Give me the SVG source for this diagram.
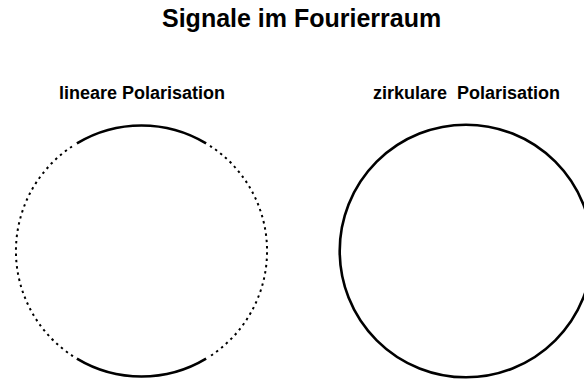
<svg xmlns="http://www.w3.org/2000/svg" width="584" height="380" viewBox="0 0 584 380">
  <style>
    .title { font-family: "Liberation Sans", Arial, sans-serif; font-weight: bold; font-size: 25px; fill: #000; }
    .label { font-family: "Liberation Sans", Arial, sans-serif; font-weight: bold; font-size: 18px; fill: #000; white-space: pre; }
    .solid { fill: none; stroke: #000; stroke-width: 2.6; }
    .dotted { fill: none; stroke: #000; stroke-width: 2; stroke-dasharray: 2.4 3.9; }
  </style>
  <rect width="584" height="380" fill="#fff"/>
  <g id="title">
    <text class="title" x="162" y="27">Signale im Fourierraum</text>
  </g>
  <g id="linear">
    <text class="label" x="59" y="99">lineare Polarisation</text>
    <path class="solid" d="M76.9,143.4 A125.5,125.5 0 0 1 206.1,143.4"/>
    <path class="solid" d="M206.1,358.6 A125.5,125.5 0 0 1 76.9,358.6"/>
    <path class="dotted" d="M210,145.8 A125.5,125.5 0 0 1 210,356.2"/>
    <path class="dotted" d="M73,356.2 A125.5,125.5 0 0 1 73,145.8"/>
  </g>
  <g id="circular">
    <text class="label" x="373" y="99" xml:space="preserve">zirkulare  Polarisation</text>
    <circle class="solid" cx="466" cy="251" r="126.3"/>
  </g>
</svg>
